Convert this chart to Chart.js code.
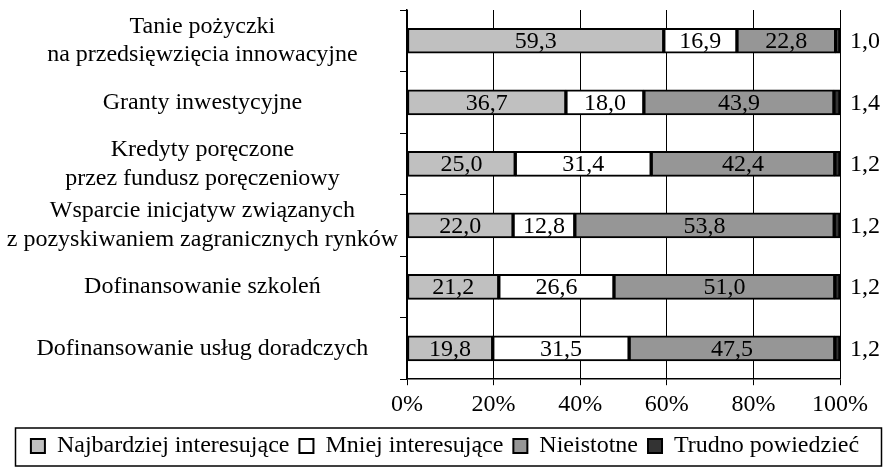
<!DOCTYPE html>
<html>
<head>
<meta charset="utf-8">
<script src="https://cdn.jsdelivr.net/npm/chart.js@4.4.1/dist/chart.umd.min.js"></script>
<style>
  body { margin: 0; background: #fff; }
  #wrap { width: 890px; height: 470px; }
</style>
</head>
<body>
<div id="wrap"><canvas id="chart"></canvas></div>
<script>
const categories = [
    ["Tanie pożyczki", "na przedsięwzięcia innowacyjne"],
    "Granty inwestycyjne",
    ["Kredyty poręczone", "przez fundusz poręczeniowy"],
    ["Wsparcie inicjatyw związanych", "z pozyskiwaniem zagranicznych rynków"],
    "Dofinansowanie szkoleń",
    "Dofinansowanie usług doradczych"
];
const seriesNames = ["Najbardziej interesujące", "Mniej interesujące", "Nieistotne", "Trudno powiedzieć"];
const mostInteresting = [59.3, 36.7, 25.0, 22.0, 21.2, 19.8];
const lessInteresting = [16.9, 18.0, 31.4, 12.8, 26.6, 31.5];
const notImportant = [22.8, 43.9, 42.4, 53.8, 51.0, 47.5];
const hardToSay = [1.0, 1.4, 1.2, 1.2, 1.2, 1.2];
const xTicks = [0, 20, 40, 60, 80, 100];

const colors = ["#c0c0c0", "#ffffff", "#969696", "#333333"];
const FONT = "'Liberation Serif', 'Times New Roman', serif";

Chart.defaults.font.family = FONT;
Chart.defaults.font.size = 24;
Chart.defaults.color = "#000";

const fmt = (v) => v.toFixed(1).replace(".", ",");

const series = [mostInteresting, lessInteresting, notImportant, hardToSay];
// 100% stacked: each row scaled to its own total
const rowTotals = categories.map((_, j) => series.reduce((s, d) => s + d[j], 0));

// values inside the bars, last series outside on the right
const valueLabels = {
    id: "valueLabels",
    afterDatasetsDraw(chart) {
        const ctx = chart.ctx;
        ctx.save();
        ctx.font = "24px " + FONT;
        ctx.fillStyle = "#000";
        ctx.textBaseline = "middle";
        chart.data.datasets.forEach((ds, i) => {
            chart.getDatasetMeta(i).data.forEach((bar, j) => {
                const p = bar.getProps(["x", "base", "y"], true);
                const txt = fmt(series[i][j]);
                if (i === 3) {
                    ctx.textAlign = "left";
                    ctx.fillText(txt, chart.chartArea.right + 10, p.y + 1);
                } else {
                    ctx.textAlign = "center";
                    ctx.fillText(txt, (p.x + p.base) / 2, p.y + 1);
                }
            });
        });
        ctx.restore();
    }
};

const legendFrame = {
    id: "legendFrame",
    afterDraw(chart) {
        const lg = chart.legend;
        const ctx = chart.ctx;
        ctx.save();
        ctx.strokeStyle = "#000";
        ctx.lineWidth = 1.5;
        ctx.strokeRect(15.5, lg.top + 4, chart.width - 24, lg.bottom - lg.top - 6);
        ctx.restore();
    }
};

new Chart(document.getElementById("chart").getContext("2d"), {
    type: "bar",
    data: {
        labels: categories,
        datasets: series.map((d, i) => ({
            label: seriesNames[i],
            data: d.map((v, j) => v / rowTotals[j] * 100),
            backgroundColor: colors[i],
            borderColor: "#000",
            borderWidth: 2,
            borderSkipped: false,
            barThickness: 25
        }))
    },
    options: {
        indexAxis: "y",
        responsive: true,
        maintainAspectRatio: false,
        animation: false,
        layout: {
            padding: { top: 10, right: 0, bottom: 2, left: 0 }
        },
        plugins: {
            tooltip: { enabled: false },
            legend: {
                position: "bottom",
                labels: {
                    boxWidth: 14,
                    boxHeight: 14,
                    padding: 10,
                    color: "#000",
                    font: { size: 24 }
                }
            }
        },
        scales: {
            x: {
                stacked: true,
                min: 0,
                max: 100,
                afterBuildTicks: (axis) => {
                    axis.ticks = xTicks.map((v) => ({ value: v }));
                },
                ticks: {
                    padding: 5,
                    maxRotation: 0,
                    callback: (v) => v + "%"
                },
                grid: {
                    color: "#000",
                    lineWidth: 1,
                    tickLength: 6
                },
                border: { color: "#000", width: 1.5 }
            },
            y: {
                stacked: true,
                ticks: {
                    autoSkip: false,
                    crossAlign: "center",
                    padding: 2
                },
                grid: {
                    color: "#000",
                    drawOnChartArea: false,
                    offset: true,
                    tickLength: 7
                },
                border: { color: "#000", width: 1.5 },
                afterFit: (s) => {
                    s.width = 407;
                    s.paddingTop = 0;
                    s.paddingBottom = 0;
                }
            },
            // empty right axis: room for the outside labels
            yRight: {
                type: "category",
                position: "right",
                labels: categories.map(() => ""),
                grid: { display: false },
                border: { display: false },
                ticks: { display: false },
                afterFit: (s) => { s.width = 50; }
            }
        }
    },
    plugins: [valueLabels, legendFrame]
});
</script>
</body>
</html>
